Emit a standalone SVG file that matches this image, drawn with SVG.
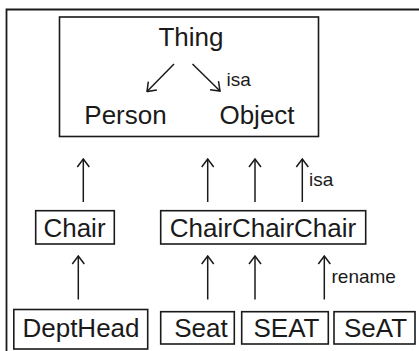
<svg xmlns="http://www.w3.org/2000/svg" width="419" height="351" viewBox="0 0 419 351">
<style>
.box{fill:none;stroke:#1a1a1a;stroke-width:1.6}
.frame{fill:none;stroke:#1a1a1a;stroke-width:1.8}
.t{font-family:"Liberation Sans",Arial,sans-serif;font-size:26px;fill:#1a1a1a;text-anchor:middle}
.lbl{font-family:"Liberation Sans",Arial,sans-serif;font-size:19px;fill:#1a1a1a}
.ar{fill:none;stroke:#1a1a1a;stroke-width:1.5;marker-end:url(#h)}
</style>
<defs>
<marker id="h" viewBox="0 0 10 14" refX="9" refY="7" markerWidth="10" markerHeight="14" markerUnits="userSpaceOnUse" orient="auto">
<polyline points="1,1 9,7 1,13" fill="none" stroke="#1a1a1a" stroke-width="1.5"/>
</marker>
</defs>
<rect width="419" height="351" fill="#ffffff"/>
<path class="frame" d="M6.5,351 V9.5 H419"/>
<g id="top">
<rect class="box" x="59.5" y="17" width="259" height="119.5"/>
<text class="t" x="191" y="46">Thing</text>
<text class="t" x="125.5" y="124">Person</text>
<text class="t" x="257" y="124">Object</text>
</g>
<g id="chair"><rect class="box" x="35.7" y="210.7" width="78.6" height="33.3"/><text class="t" x="74.5" y="236.5">Chair</text></g>
<g id="ccc"><rect class="box" x="160.7" y="210.7" width="205" height="33.3"/><text class="t" x="263" y="236.5">ChairChairChair</text></g>
<g id="depthead"><rect class="box" x="13.8" y="309.5" width="133.9" height="39.5"/><text class="t" x="81" y="336.5">DeptHead</text></g>
<g id="seat"><rect class="box" x="160.7" y="311.7" width="73.6" height="32.3"/><text class="t" x="201" y="336.5">Seat</text></g>
<g id="SEAT"><rect class="box" x="241.7" y="311.7" width="86.6" height="32.3"/><text class="t" x="286.5" y="336.5">SEAT</text></g>
<g id="SeAT"><rect class="box" x="334" y="311.7" width="81" height="32.3"/><text class="t" x="375.5" y="336.5">SeAT</text></g>
<g id="connectors">
<line class="ar" x1="174" y1="64" x2="147" y2="91.5"/>
<line class="ar" x1="192.5" y1="64" x2="220" y2="91"/>
<text class="lbl" x="226.5" y="86">isa</text>
<line class="ar" x1="83.3" y1="202" x2="83.3" y2="159"/>
<line class="ar" x1="207.7" y1="202" x2="207.7" y2="159"/>
<line class="ar" x1="255" y1="202" x2="255" y2="159"/>
<line class="ar" x1="302.3" y1="202" x2="302.3" y2="159"/>
<text class="lbl" x="309" y="186">isa</text>
<line class="ar" x1="78.3" y1="299.5" x2="78.3" y2="256"/>
<line class="ar" x1="207.7" y1="299.5" x2="207.7" y2="256"/>
<line class="ar" x1="255" y1="299.5" x2="255" y2="256"/>
<line class="ar" x1="324.3" y1="299.5" x2="324.3" y2="256"/>
<text class="lbl" x="331.5" y="283">rename</text>
</g>
</svg>
